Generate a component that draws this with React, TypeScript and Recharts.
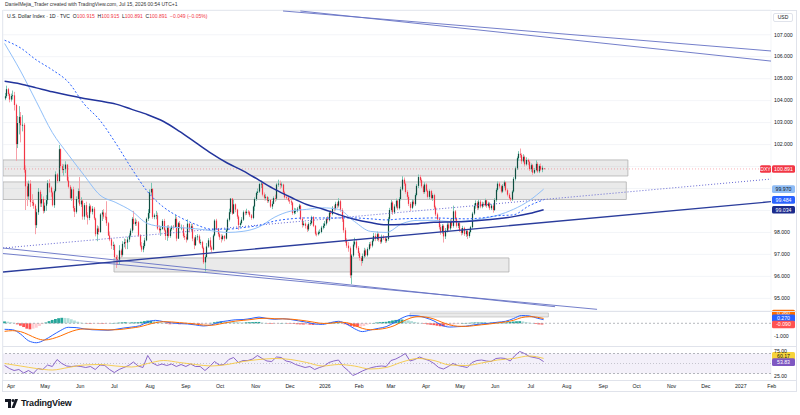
import React from 'react'
import {
  ComposedChart,
  Bar,
  Line,
  XAxis,
  YAxis,
  CartesianGrid,
  ReferenceLine,
  ReferenceArea,
} from 'recharts'

const FONT = '"Liberation Sans", Arial, sans-serif'
const TEXT = '#131722'
const UP = '#0f4d40'
const DOWN = '#f23645'

// ---- time scale (bar index) ----
const X0 = -1.006
const X1 = 482
const XT1 = 498.37
const monthIdx = [4, 25.5, 47.5, 69, 91.5, 114, 135.5, 158, 179.5, 201.5, 223, 243, 265, 286.5, 308.5, 331, 353.5, 376.5, 397.5, 419.5, 441, 463, 482.5]
const monthLbl = ['Apr', 'May', 'Jun', 'Jul', 'Aug', 'Sep', 'Oct', 'Nov', 'Dec', '2026', 'Feb', 'Mar', 'Apr', 'May', 'Jun', 'Jul', 'Aug', 'Sep', 'Oct', 'Nov', 'Dec', '2027', 'Feb']

// ---- daily OHLC, DXY ----
const opens = [
  104.10, 104.20, 104.52, 104.30, 104.05, 104.21, 104.24, 103.80, 102.02, 102.98,
  103.26, 102.88, 102.90, 100.85, 100.10, 99.64, 100.22, 99.38, 99.36, 99.22,
  98.33, 98.92, 99.85, 99.32, 99.52, 98.98, 99.22, 99.47, 100.24, 100.04,
  99.82, 99.24, 99.88, 100.64, 100.34, 101.79, 101.02, 100.84, 100.88, 101.09,
  100.36, 100.08, 99.56, 99.96, 99.11, 98.94, 99.52, 99.88, 99.28, 99.44,
  98.72, 99.24, 98.78, 98.66, 99.19, 98.94, 99.08, 98.64, 97.92, 98.18,
  98.02, 98.82, 98.91, 98.72, 98.71, 98.42, 97.86, 97.68, 97.40, 97.42,
  96.88, 96.78, 96.76, 97.18, 96.98, 97.48, 97.56, 97.54, 97.68, 97.86,
  98.08, 98.62, 98.38, 98.48, 98.46, 97.86, 97.40, 97.22, 97.38, 97.64,
  98.62, 98.88, 99.82, 99.98, 98.70, 98.78, 98.78, 98.18, 98.10, 98.16,
  98.52, 98.10, 97.84, 98.22, 97.84, 98.14, 98.26, 98.24, 98.62, 97.72,
  98.42, 98.22, 98.22, 97.84, 97.78, 97.68, 98.40, 98.14, 98.28, 97.72,
  97.42, 97.78, 97.82, 97.54, 97.56, 97.30, 96.64, 96.88, 97.36, 97.64,
  97.32, 97.22, 97.86, 98.54, 98.16, 97.92, 97.78, 97.70, 97.84, 97.72,
  98.10, 98.58, 98.92, 99.54, 98.86, 99.28, 99.04, 98.72, 98.34, 98.42,
  98.58, 98.92, 98.88, 98.94, 98.92, 98.78, 98.66, 99.18, 99.52, 99.80,
  99.86, 100.20, 100.22, 99.72, 99.58, 99.62, 99.44, 99.48, 99.18, 99.30,
  99.56, 99.54, 100.18, 100.22, 100.16, 100.18, 99.82, 99.60, 99.58, 99.46,
  99.42, 99.36, 98.88, 98.98, 98.98, 99.08, 99.22, 98.62, 98.34, 98.40,
  98.30, 98.14, 98.38, 98.42, 98.70, 98.30, 97.94, 97.92, 98.00, 98.02,
  98.22, 98.30, 98.40, 98.62, 98.56, 98.90, 98.84, 99.12, 99.08, 99.30,
  99.22, 99.42, 99.02, 98.60, 98.10, 97.62, 97.40, 97.28, 96.05, 96.95,
  97.45, 97.58, 97.30, 97.06, 96.84, 96.70, 96.92, 97.18, 96.96, 97.24,
  97.46, 97.40, 97.62, 97.84, 97.70, 97.92, 97.66, 97.58, 97.80, 97.74,
  97.62, 97.70, 98.62, 99.02, 99.36, 98.92, 99.18, 99.44, 99.10, 99.52,
  99.96, 100.40, 100.22, 99.84, 99.62, 99.30, 99.12, 99.40, 99.28, 99.70,
  100.12, 100.52, 100.38, 100.10, 99.84, 100.18, 99.90, 99.62, 99.88, 99.56,
  99.70, 99.14, 98.82, 98.60, 98.24, 98.02, 98.30, 97.82, 98.08, 98.36,
  98.18, 98.52, 98.30, 98.96, 98.64, 98.30, 98.42, 98.10, 97.98, 98.20,
  97.92, 98.06, 97.84, 98.02, 98.24, 98.86, 99.20, 99.34, 99.12, 99.40,
  99.18, 99.30, 99.24, 99.46, 99.20, 99.32, 99.10, 99.22, 99.02, 99.48,
  99.94, 100.22, 100.10, 99.86, 100.12, 100.28, 99.92, 99.72, 99.56, 99.50,
  99.86, 100.44, 100.92, 101.38, 101.58, 101.52, 101.24, 101.44, 101.10, 101.30,
  101.22, 100.88, 101.06, 100.72, 100.84, 101.12, 100.78, 101.02, 100.86, 100.915,
]
const highs = [
  104.35, 104.68, 104.58, 104.36, 104.32, 104.46, 104.40, 103.86, 103.30, 103.75,
  103.48, 103.34, 102.98, 101.05, 100.28, 100.36, 100.38, 99.74, 99.48, 99.30,
  99.08, 100.02, 99.94, 99.74, 99.64, 99.36, 99.70, 100.38, 100.42, 100.10,
  99.90, 99.96, 100.78, 100.70, 101.98, 101.82, 101.12, 101.10, 101.24, 101.10,
  100.54, 100.16, 100.04, 100.08, 99.20, 99.64, 100.00, 100.52, 99.60, 99.52,
  99.34, 99.40, 98.92, 99.32, 99.26, 99.20, 99.16, 98.68, 98.32, 98.28,
  98.88, 99.02, 99.06, 98.90, 99.42, 98.48, 98.04, 97.74, 97.58, 97.48,
  96.98, 96.96, 97.42, 97.26, 97.60, 97.72, 97.70, 97.80, 97.96, 98.18,
  98.70, 98.98, 98.64, 98.58, 98.52, 97.92, 97.56, 97.52, 97.76, 98.68,
  99.06, 99.96, 100.26, 100.02, 98.86, 98.98, 98.90, 98.32, 98.28, 98.60,
  98.62, 98.18, 98.32, 98.34, 98.20, 98.32, 98.34, 98.80, 98.72, 98.48,
  98.52, 98.36, 98.34, 97.96, 97.92, 98.60, 98.42, 98.40, 98.40, 97.80,
  97.88, 97.92, 97.90, 97.68, 97.62, 97.36, 96.96, 97.52, 97.74, 97.78,
  97.40, 97.92, 98.60, 98.62, 98.20, 98.00, 97.92, 97.90, 97.88, 98.18,
  98.64, 99.08, 99.56, 99.56, 99.48, 99.32, 99.08, 98.78, 98.50, 98.70,
  99.00, 99.00, 99.08, 99.02, 98.98, 98.84, 99.22, 99.60, 99.86, 100.00,
  100.26, 100.36, 100.26, 99.82, 99.74, 99.66, 99.60, 99.52, 99.42, 99.64,
  99.72, 100.24, 100.40, 100.36, 100.28, 100.22, 99.90, 99.70, 99.64, 99.54,
  99.50, 99.40, 99.12, 99.10, 99.16, 99.30, 99.26, 98.70, 98.52, 98.46,
  98.36, 98.46, 98.56, 98.76, 98.74, 98.34, 98.04, 98.08, 98.14, 98.30,
  98.42, 98.52, 98.70, 98.74, 98.98, 99.02, 99.20, 99.24, 99.40, 99.38,
  99.56, 99.50, 99.10, 98.66, 98.22, 97.74, 97.56, 97.36, 97.02, 97.60,
  97.76, 97.68, 97.38, 97.14, 96.92, 97.04, 97.30, 97.26, 97.32, 97.56,
  97.58, 97.70, 97.98, 97.96, 98.04, 98.00, 97.74, 97.90, 97.88, 97.82,
  97.82, 98.70, 99.12, 99.48, 99.42, 99.28, 99.54, 99.50, 99.60, 100.08,
  100.56, 100.50, 100.30, 99.92, 99.70, 99.38, 99.52, 99.48, 99.78, 100.20,
  100.64, 100.62, 100.46, 100.18, 100.28, 100.24, 99.96, 99.96, 99.94, 99.78,
  99.76, 99.22, 98.90, 98.66, 98.36, 98.38, 98.36, 98.20, 98.46, 98.44,
  98.60, 98.62, 99.22, 99.02, 98.70, 98.50, 98.48, 98.20, 98.30, 98.26,
  98.14, 98.12, 98.10, 98.30, 98.94, 99.32, 99.46, 99.42, 99.50, 99.48,
  99.40, 99.38, 99.54, 99.50, 99.40, 99.38, 99.30, 99.28, 99.56, 100.02,
  100.32, 100.30, 100.16, 100.20, 100.36, 100.32, 100.00, 99.80, 99.62, 99.92,
  100.52, 101.00, 101.46, 101.70, 101.82, 101.60, 101.56, 101.50, 101.42, 101.36,
  101.30, 101.14, 101.12, 100.94, 101.28, 101.20, 101.10, 101.14, 101.04, 100.915,
]
const lows = [
  104.02, 104.12, 104.22, 103.92, 103.96, 104.05, 103.55, 101.26, 101.84, 102.46,
  102.10, 102.60, 100.72, 99.02, 99.20, 99.48, 99.16, 99.20, 99.08, 97.92,
  98.20, 98.80, 99.16, 99.16, 98.86, 98.90, 98.98, 99.30, 99.82, 99.62,
  99.18, 99.12, 99.82, 100.24, 100.30, 100.92, 100.70, 100.58, 100.70, 100.30,
  100.00, 99.50, 99.44, 98.96, 98.70, 98.86, 99.36, 99.20, 99.16, 98.58,
  98.58, 98.70, 98.36, 98.56, 98.86, 98.82, 98.56, 97.82, 97.60, 97.90,
  97.98, 98.52, 98.62, 98.56, 98.30, 97.84, 97.60, 97.24, 97.20, 96.84,
  96.38, 96.52, 96.56, 96.86, 96.90, 97.32, 97.24, 97.24, 97.56, 97.78,
  97.98, 98.12, 98.30, 98.30, 97.80, 97.32, 97.12, 97.10, 97.30, 97.60,
  98.52, 98.66, 99.70, 98.62, 98.60, 98.60, 98.12, 97.98, 97.84, 98.12,
  98.04, 97.66, 97.62, 97.76, 97.76, 98.06, 98.12, 98.20, 97.60, 97.70,
  98.16, 98.10, 97.76, 97.66, 97.54, 97.64, 98.00, 98.08, 97.60, 97.24,
  97.38, 97.64, 97.48, 97.44, 97.24, 96.56, 96.22, 96.84, 97.30, 97.20,
  97.10, 97.18, 97.82, 98.12, 97.82, 97.66, 97.54, 97.64, 97.60, 97.68,
  98.04, 98.50, 98.84, 98.80, 98.84, 98.92, 98.62, 98.12, 98.24, 98.36,
  98.52, 98.78, 98.80, 98.82, 98.70, 98.58, 98.60, 98.98, 99.44, 99.70,
  99.80, 100.02, 99.64, 99.46, 99.46, 99.34, 99.36, 99.12, 99.06, 99.28,
  99.40, 99.46, 100.08, 99.98, 100.04, 99.74, 99.54, 99.48, 99.40, 99.30,
  99.24, 98.80, 98.82, 98.84, 98.92, 99.00, 98.56, 98.22, 98.28, 98.18,
  98.02, 98.06, 98.30, 98.36, 98.24, 97.86, 97.82, 97.86, 97.92, 97.96,
  98.14, 98.20, 98.32, 98.44, 98.50, 98.70, 98.78, 98.96, 99.00, 99.10,
  99.14, 98.94, 98.48, 97.98, 97.52, 97.30, 97.12, 95.92, 95.65, 96.88,
  97.36, 97.22, 96.92, 96.72, 96.48, 96.60, 96.84, 96.88, 96.90, 97.18,
  97.30, 97.32, 97.56, 97.60, 97.62, 97.58, 97.48, 97.50, 97.66, 97.52,
  97.54, 97.62, 98.50, 98.94, 98.80, 98.84, 99.10, 99.02, 99.04, 99.46,
  99.90, 100.12, 99.76, 99.52, 99.20, 98.98, 99.06, 99.18, 99.20, 99.64,
  100.02, 100.26, 100.02, 99.76, 99.76, 99.84, 99.54, 99.52, 99.48, 99.44,
  99.06, 98.74, 98.52, 98.14, 97.90, 97.94, 97.54, 97.70, 98.00, 98.06,
  98.10, 98.20, 98.22, 98.54, 98.22, 98.20, 98.02, 97.86, 97.90, 97.84,
  97.80, 97.70, 97.76, 97.96, 98.18, 98.80, 99.08, 99.02, 99.04, 99.10,
  99.10, 99.16, 99.18, 99.12, 99.14, 99.02, 99.02, 98.90, 98.98, 99.40,
  99.86, 100.00, 99.78, 99.80, 100.04, 99.86, 99.64, 99.48, 99.42, 99.44,
  99.80, 100.36, 100.84, 101.26, 101.40, 101.12, 101.18, 101.00, 101.04, 101.06,
  100.80, 100.76, 100.62, 100.66, 100.78, 100.70, 100.70, 100.80, 100.74, 100.891,
]
const closes = [
  104.20, 104.52, 104.30, 104.05, 104.21, 104.24, 103.80, 102.02, 102.98, 103.26,
  102.88, 102.90, 100.85, 100.10, 99.64, 100.22, 99.38, 99.36, 99.22, 98.33,
  98.92, 99.85, 99.32, 99.52, 98.98, 99.22, 99.47, 100.24, 100.04, 99.82,
  99.24, 99.88, 100.64, 100.34, 101.79, 101.02, 100.84, 100.88, 101.09, 100.36,
  100.08, 99.56, 99.96, 99.11, 98.94, 99.52, 99.88, 99.28, 99.44, 98.72,
  99.24, 98.78, 98.66, 99.19, 98.94, 99.08, 98.64, 97.92, 98.18, 98.02,
  98.82, 98.91, 98.72, 98.71, 98.42, 97.86, 97.68, 97.40, 97.42, 96.88,
  96.78, 96.76, 97.18, 96.98, 97.48, 97.56, 97.54, 97.68, 97.86, 98.08,
  98.62, 98.38, 98.48, 98.46, 97.86, 97.40, 97.22, 97.38, 97.64, 98.62,
  98.88, 99.82, 99.98, 98.70, 98.78, 98.78, 98.18, 98.10, 98.16, 98.52,
  98.10, 97.84, 98.22, 97.84, 98.14, 98.26, 98.24, 98.62, 97.72, 98.42,
  98.22, 98.22, 97.84, 97.78, 97.68, 98.40, 98.14, 98.28, 97.72, 97.42,
  97.78, 97.82, 97.54, 97.56, 97.30, 96.64, 96.88, 97.36, 97.64, 97.32,
  97.22, 97.86, 98.54, 98.16, 97.92, 97.78, 97.70, 97.84, 97.72, 98.10,
  98.58, 98.92, 99.54, 98.86, 99.28, 99.04, 98.72, 98.34, 98.42, 98.58,
  98.92, 98.88, 98.94, 98.92, 98.78, 98.66, 99.18, 99.52, 99.80, 99.86,
  100.20, 100.22, 99.72, 99.58, 99.62, 99.44, 99.48, 99.18, 99.30, 99.56,
  99.54, 100.18, 100.22, 100.16, 100.18, 99.82, 99.60, 99.58, 99.46, 99.42,
  99.36, 98.88, 98.98, 98.98, 99.08, 99.22, 98.62, 98.34, 98.40, 98.30,
  98.14, 98.38, 98.42, 98.70, 98.30, 97.94, 97.92, 98.00, 98.02, 98.22,
  98.30, 98.40, 98.62, 98.56, 98.90, 98.84, 99.12, 99.08, 99.30, 99.22,
  99.42, 99.02, 98.60, 98.10, 97.62, 97.40, 97.28, 96.05, 96.95, 97.45,
  97.58, 97.30, 97.06, 96.84, 96.70, 96.92, 97.18, 96.96, 97.24, 97.46,
  97.40, 97.62, 97.84, 97.70, 97.92, 97.66, 97.58, 97.80, 97.74, 97.62,
  97.70, 98.62, 99.02, 99.36, 98.92, 99.18, 99.44, 99.10, 99.52, 99.96,
  100.40, 100.22, 99.84, 99.62, 99.30, 99.12, 99.40, 99.28, 99.70, 100.12,
  100.52, 100.38, 100.10, 99.84, 100.18, 99.90, 99.62, 99.88, 99.56, 99.70,
  99.14, 98.82, 98.60, 98.24, 98.02, 98.30, 97.82, 98.08, 98.36, 98.18,
  98.52, 98.30, 98.96, 98.64, 98.30, 98.42, 98.10, 97.98, 98.20, 97.92,
  98.06, 97.84, 98.02, 98.24, 98.86, 99.20, 99.34, 99.12, 99.40, 99.18,
  99.30, 99.24, 99.46, 99.20, 99.32, 99.10, 99.22, 99.02, 99.48, 99.94,
  100.22, 100.10, 99.86, 100.12, 100.28, 99.92, 99.72, 99.56, 99.50, 99.86,
  100.44, 100.92, 101.38, 101.58, 101.52, 101.24, 101.44, 101.10, 101.30, 101.22,
  100.88, 101.06, 100.72, 100.84, 101.12, 100.78, 101.02, 100.86, 100.94, 100.891,
]

// ---- moving averages, read every 10 bars ----
const maIdx = [0, 10, 20, 30, 40, 50, 60, 70, 80, 90, 100, 110, 120, 130, 140, 150, 160, 170, 180, 190, 200, 210, 220, 230, 240, 250, 260, 270, 280, 290, 300, 310, 320, 330, 339]
const smaSlow = [104.88, 104.76, 104.58, 104.40, 104.24, 104.10, 103.98, 103.84, 103.60, 103.36, 103.05, 102.60, 102.10, 101.60, 101.16, 100.80, 100.38, 99.96, 99.60, 99.27, 99.07, 98.82, 98.60, 98.45, 98.35, 98.36, 98.40, 98.46, 98.48, 98.50, 98.55, 98.62, 98.72, 98.86, 99.034]
const smaFast = [106.60, 105.35, 103.95, 102.55, 101.55, 100.60, 99.70, 99.36, 98.97, 98.40, 98.26, 98.22, 98.17, 98.08, 98.00, 98.05, 98.25, 98.70, 98.97, 99.05, 99.12, 99.05, 98.50, 98.05, 98.00, 98.40, 98.55, 98.55, 98.50, 98.52, 98.62, 98.78, 99.05, 99.45, 99.970]
const emaMid = [106.75, 106.40, 105.85, 105.40, 104.85, 103.85, 103.10, 102.05, 100.90, 99.85, 99.15, 98.70, 98.37, 98.15, 98.15, 98.22, 98.32, 98.52, 98.62, 98.66, 98.66, 98.66, 98.66, 98.62, 98.57, 98.62, 98.64, 98.66, 98.64, 98.62, 98.66, 98.76, 98.80, 99.22, 99.484]

// ---- MACD, every 5 bars (last point = bar 339) ----
const macdLine = [
  -0.45, -0.48, -0.80, -1.30, -1.45, -1.25, -0.90, -0.55, -0.30, -0.32,
  -0.42, -0.48, -0.50, -0.52, -0.45, -0.35, -0.28, -0.18, 0.10, 0.22,
  0.12, 0.03, -0.02, -0.05, -0.12, -0.20, -0.12, 0.08, 0.18, 0.26,
  0.28, 0.36, 0.46, 0.36, 0.30, 0.34, 0.28, 0.18, 0.08, -0.05,
  -0.08, 0.05, 0.15, -0.05, -0.40, -0.62, -0.50, -0.38, -0.25, 0.05,
  0.40, 0.58, 0.55, 0.40, 0.18, -0.15, -0.28, -0.25, -0.22, -0.12,
  -0.05, 0.00, 0.08, 0.15, 0.35, 0.58, 0.55, 0.38, 0.270,
]
const signalLine = [
  -0.60, -0.55, -0.62, -0.85, -1.12, -1.25, -1.15, -0.95, -0.70, -0.50,
  -0.42, -0.44, -0.47, -0.49, -0.48, -0.43, -0.35, -0.26, -0.10, 0.05,
  0.12, 0.10, 0.05, 0.00, -0.06, -0.13, -0.15, -0.06, 0.06, 0.16,
  0.22, 0.28, 0.36, 0.38, 0.34, 0.33, 0.31, 0.25, 0.17, 0.07,
  -0.01, 0.00, 0.08, 0.05, -0.15, -0.38, -0.48, -0.45, -0.36, -0.18,
  0.12, 0.38, 0.50, 0.46, 0.32, 0.08, -0.12, -0.22, -0.23, -0.18,
  -0.11, -0.05, 0.03, 0.10, 0.22, 0.42, 0.50, 0.45, 0.360,
]
// histogram, every 2 bars
const macdHist = [
  0.14, 0.12, 0.08, 0.04, -0.08, -0.18, -0.28, -0.40, -0.45, -0.40,
  -0.33, -0.20, -0.06, 0.06, 0.16, 0.25, 0.32, 0.38, 0.41, 0.40,
  0.38, 0.30, 0.21, 0.12, 0.05, 0.00, -0.03, -0.04, -0.03, -0.02,
  -0.03, -0.04, -0.03, -0.01, 0.02, 0.03, 0.05, 0.07, 0.08, 0.07,
  0.07, 0.07, 0.08, 0.11, 0.16, 0.20, 0.20, 0.18, 0.14, 0.07,
  0.00, -0.04, -0.07, -0.07, -0.06, -0.07, -0.06, -0.05, -0.05, -0.06,
  -0.06, -0.07, -0.07, -0.05, -0.01, 0.03, 0.08, 0.12, 0.14, 0.13,
  0.12, 0.11, 0.10, 0.09, 0.07, 0.06, 0.07, 0.08, 0.09, 0.10,
  0.10, 0.05, 0.00, -0.03, -0.04, -0.04, -0.01, 0.01, 0.00, -0.02,
  -0.03, -0.05, -0.07, -0.08, -0.09, -0.09, -0.10, -0.12, -0.11, -0.09,
  -0.07, -0.02, 0.03, 0.06, 0.07, 0.07, 0.00, -0.07, -0.13, -0.20,
  -0.25, -0.26, -0.25, -0.20, -0.10, -0.02, 0.02, 0.06, 0.08, 0.10,
  0.11, 0.16, 0.21, 0.25, 0.27, 0.28, 0.25, 0.21, 0.16, 0.10,
  0.05, 0.01, -0.04, -0.08, -0.11, -0.14, -0.18, -0.22, -0.23, -0.20,
  -0.16, -0.11, -0.06, -0.02, 0.00, 0.01, 0.03, 0.05, 0.06, 0.06,
  0.06, 0.06, 0.05, 0.05, 0.05, 0.05, 0.05, 0.05, 0.07, 0.10,
  0.13, 0.15, 0.16, 0.14, 0.09, 0.05, 0.01, -0.05, -0.08, -0.09,
]

// ---- RSI every 3 bars, its MA every 10 bars ----
const rsiVals = [
  46, 40, 36, 38, 31, 36, 30, 40, 38, 47,
  44, 58, 50, 45, 44, 45, 44, 42, 44, 38,
  47, 46, 38, 32, 38, 42, 46, 53, 45, 42,
  66, 51, 46, 49, 46, 49, 44, 48, 44, 49,
  44, 44, 36, 44, 54, 47, 48, 58, 62, 52,
  56, 56, 59, 66, 60, 55, 54, 63, 62, 55,
  53, 48, 45, 42, 44, 38, 42, 45, 52, 55,
  57, 44, 36, 26, 30, 35, 39, 42, 44, 45,
  44, 56, 59, 64, 70, 55, 58, 63, 59, 56,
  50, 42, 39, 44, 50, 46, 44, 42, 52, 56,
  57, 55, 54, 60, 61, 60, 55, 66, 74, 70,
  64, 62, 60, 53.83,
]
const rsiMa = [50, 45, 40, 37, 42, 47, 48, 45, 43, 50, 56, 52, 48, 45, 48, 54, 58, 60, 58, 52, 45, 48, 45, 39, 42, 53, 60, 56, 47, 46, 51, 57, 60, 65, 60.17]

// ---- tables for recharts ----
const candles = closes.map((c, k) => ({ i: k, o: opens[k], h: highs[k], l: lows[k], c }))
const slowData = maIdx.map((i, k) => ({ i, v: smaSlow[k] }))
const fastData = maIdx.map((i, k) => ({ i, v: smaFast[k] }))
const emaData = maIdx.map((i, k) => ({ i, v: emaMid[k] }))
const macdIdx = macdLine.map((_, k) => (k < macdLine.length - 1 ? k * 5 : 339))
const macdData = macdIdx.map((i, k) => ({ i, m: macdLine[k], s: signalLine[k] }))
const histData = macdHist.map((v, k) => {
  const prev = k > 0 ? macdHist[k - 1] : v
  const col = v >= 0 ? (v >= prev ? '#26a69a' : '#b2dfdb') : (v < prev ? '#ff5252' : '#ffcdd2')
  return { i: k * 2, h: v, col }
})
const rsiData = rsiVals.map((v, k) => ({ i: k * 3, v }))
const rsiMaData = maIdx.map((i, k) => ({ i, v: rsiMa[k] }))

const Candle = (props: any) => {
  const { x, y, width, height, payload } = props
  if (!payload) return null
  const { o, h, l, c } = payload
  const top = Math.min(y, y + height)
  const span = Math.abs(height)
  const cx = Math.round(x + width / 2) + 0.5
  const k = h === l ? 0 : span / (h - l)
  const yo = top + (h - o) * k
  const yc = top + (h - c) * k
  const up = c >= o
  const bt = Math.min(yo, yc)
  const bh = Math.max(Math.abs(yc - yo), 0.8)
  return (
    <g>
      <line x1={cx} x2={cx} y1={top} y2={top + Math.max(span, 0.8)} stroke={up ? '#7cc6b4' : '#f7a0a8'} strokeWidth={1} />
      <rect x={cx - 0.6} y={bt} width={1.2} height={bh} fill={up ? UP : DOWN} />
    </g>
  )
}

const HistBar = (props: any) => {
  const { x, y, width, height, payload } = props
  if (!payload) return null
  const top = Math.min(y, y + height)
  return <rect x={x + width / 2 - 1.4} y={top} width={2.8} height={Math.max(Math.abs(height), 0.4)} fill={payload.col} />
}

const Tag = (props: any) => {
  const { viewBox, text, bg, fg, dy = 0, shift = 0, w = 23 } = props
  if (!viewBox) return null
  const x0 = viewBox.x + viewBox.width + 1 + shift
  const yc = viewBox.y + dy
  return (
    <g>
      <rect x={x0} y={yc - 3.8} width={w} height={7.6} rx={1.5} fill={bg} />
      <text x={x0 + w / 2} y={yc + 1.8} textAnchor="middle" fontSize={5.2} fontFamily={FONT} fill={fg}>
        {text}
      </text>
    </g>
  )
}

const hiddenPriceTicks = [99, 100, 101]
const PriceTick = (props: any) => {
  const { x, y, payload } = props
  if (hiddenPriceTicks.includes(payload.value)) return <g />
  return (
    <text x={x + 3} y={y + 1.8} fontSize={5.2} fontFamily={FONT} fill={TEXT}>
      {payload.value.toFixed(3)}
    </text>
  )
}

const SubTick = (props: any) => {
  const { x, y, payload, digits } = props
  return (
    <text x={x + 3} y={y + 1.8} fontSize={5.2} fontFamily={FONT} fill={TEXT}>
      {payload.value.toFixed(digits)}
    </text>
  )
}

const TimeTick = (props: any) => {
  const { x, y, payload } = props
  const k = monthIdx.indexOf(payload.value)
  return (
    <text x={x} y={y + 7.5} textAnchor="middle" fontSize={5.2} fontFamily={FONT} fill={TEXT}>
      {monthLbl[k]}
    </text>
  )
}

const grid = '#f0f2f6'
const boxFill = '#9e9e9e'
const boxLine = '#b0b0b0'
const drawLine = '#6470c4'

export default function App() {
  return (
    <div style={{ position: 'fixed', left: 0, top: 0, width: 800, height: 415, background: '#fff', overflow: 'hidden', fontFamily: FONT }}>
      {/* header */}
      <div style={{ position: 'absolute', left: 5, top: 1, fontSize: 5, color: '#333', whiteSpace: 'nowrap' }}>
        DanielMejia_Trader created with TradingView.com, Jul 15, 2026 00:54 UTC+1
      </div>
      <div style={{ position: 'absolute', left: 2, top: 10, width: 795, height: 382, border: '1px solid #e0e3eb', boxSizing: 'border-box' }} />
      <div style={{ position: 'absolute', left: 7, top: 13, fontSize: 5, color: TEXT, whiteSpace: 'nowrap' }}>
        U.S. Dollar Index · 1D · TVC&nbsp;&nbsp;O<span style={{ color: DOWN }}>100.915</span>&nbsp;&nbsp;H<span style={{ color: DOWN }}>100.915</span>&nbsp;&nbsp;L
        <span style={{ color: DOWN }}>100.891</span>&nbsp;&nbsp;C<span style={{ color: DOWN }}>100.891</span>&nbsp;&nbsp;
        <span style={{ color: DOWN }}>−0.049 (−0.05%)</span>
      </div>

      {/* price pane */}
      <div style={{ position: 'absolute', left: 0, top: 0 }}>
        <ComposedChart width={800} height={311} data={candles} margin={{ top: 10, right: 3, bottom: 0, left: 3 }}>
          <CartesianGrid stroke={grid} strokeWidth={0.8} />
          <XAxis type="number" dataKey="i" domain={[X0, X1]} allowDataOverflow ticks={monthIdx} interval={0} height={0} tick={false} axisLine={false} tickLine={false} />
          <YAxis
            orientation="right"
            width={26}
            domain={[94.424, 108.125]}
            allowDataOverflow
            ticks={[95, 96, 97, 98, 99, 100, 101, 102, 103, 104, 105, 106, 107]}
            interval={0}
            tick={PriceTick}
            tickSize={0}
            tickMargin={0}
            axisLine={false}
            tickLine={false}
          />
          {/* zones */}
          <ReferenceArea x1={X0} x2={392} y1={100.57} y2={101.3} fill={boxFill} fillOpacity={0.22} stroke={boxLine} strokeWidth={0.8} ifOverflow="hidden" />
          <ReferenceArea x1={X0} x2={391} y1={99.5} y2={100.3} fill={boxFill} fillOpacity={0.22} stroke={boxLine} strokeWidth={0.8} ifOverflow="hidden" />
          <ReferenceArea x1={68.8} x2={317.2} y1={96.2} y2={96.84} fill={boxFill} fillOpacity={0.22} stroke={boxLine} strokeWidth={0.8} ifOverflow="hidden" />
          {/* drawn trend lines */}
          <ReferenceLine segment={[{ x: 175.1, y: 108.08 }, { x: X1, y: 106.26 }]} stroke={drawLine} strokeWidth={0.9} ifOverflow="hidden" />
          <ReferenceLine segment={[{ x: 186, y: 108.08 }, { x: X1, y: 105.8 }]} stroke={drawLine} strokeWidth={0.9} ifOverflow="hidden" />
          <ReferenceLine segment={[{ x: X0, y: 97.29 }, { x: 346.2, y: 94.62 }]} stroke={drawLine} strokeWidth={0.9} ifOverflow="hidden" />
          <ReferenceLine segment={[{ x: X0, y: 97.04 }, { x: 372.6, y: 94.5 }]} stroke={drawLine} strokeWidth={0.9} ifOverflow="hidden" />
          <ReferenceLine segment={[{ x: X0, y: 96.2 }, { x: X1, y: 99.4 }]} stroke="#2b3d9c" strokeWidth={1.3} ifOverflow="hidden" />
          <ReferenceLine segment={[{ x: X0, y: 97.29 }, { x: X1, y: 100.43 }]} stroke="#6466d2" strokeWidth={1} strokeDasharray="1 2" ifOverflow="hidden" />
          <ReferenceLine y={100.891} stroke={DOWN} strokeOpacity={0.55} strokeWidth={0.7} strokeDasharray="1 2" />

          <Line data={fastData} dataKey="v" type="monotone" stroke="#90bff9" strokeWidth={1} dot={false} isAnimationActive={false} />
          <Line data={emaData} dataKey="v" type="monotone" stroke="#2962ff" strokeWidth={1} strokeDasharray="2 2" dot={false} isAnimationActive={false} />
          <Line data={slowData} dataKey="v" type="monotone" stroke="#22349c" strokeWidth={1.5} dot={false} isAnimationActive={false} />

          <Bar dataKey={(d: any) => [d.l, d.h]} barSize={2} shape={<Candle />} isAnimationActive={false} />

          {/* price scale tags */}
          <ReferenceLine y={100.891} stroke="transparent" label={<Tag text="DXY" bg={DOWN} fg="#fff" shift={-12} w={11} />} />
          <ReferenceLine y={100.891} stroke="transparent" label={<Tag text="100.891" bg={DOWN} fg="#fff" />} />
          <ReferenceLine y={99.97} stroke="transparent" label={<Tag text="99.970" bg="#8fbcf5" fg={TEXT} />} />
          <ReferenceLine y={99.484} stroke="transparent" label={<Tag text="99.484" bg="#2962ff" fg="#fff" />} />
          <ReferenceLine y={99.034} stroke="transparent" label={<Tag text="99.034" bg="#1a2a8c" fg="#fff" />} />
        </ComposedChart>
      </div>

      {/* MACD pane */}
      <div style={{ position: 'absolute', left: 0, top: 305 }}>
        <ComposedChart width={800} height={42} data={histData} margin={{ top: 7, right: 3, bottom: 0, left: 3 }}>
          <CartesianGrid stroke={grid} strokeWidth={0.8} horizontal={false} />
          <XAxis type="number" dataKey="i" domain={[X0, X1]} allowDataOverflow ticks={monthIdx} interval={0} height={0} tick={false} axisLine={false} tickLine={false} />
          <YAxis orientation="right" width={26} domain={[-1.769, 0.843]} allowDataOverflow ticks={[-1]} interval={0} tick={<SubTick digits={3} />} tickSize={0} tickMargin={0} axisLine={false} tickLine={false} />
          <ReferenceArea x1={255} x2={342} y1={0.47} y2={0.77} fill={boxFill} fillOpacity={0.22} stroke={boxLine} strokeWidth={0.6} ifOverflow="hidden" />
          <ReferenceLine y={0} stroke="#9598a1" strokeWidth={0.7} strokeDasharray="2 2" />
          <Bar dataKey="h" barSize={2} shape={<HistBar />} isAnimationActive={false} />
          <Line data={macdData} dataKey="m" type="monotone" stroke="#2962ff" strokeWidth={1} dot={false} isAnimationActive={false} />
          <Line data={macdData} dataKey="s" type="monotone" stroke="#ff6d00" strokeWidth={1} dot={false} isAnimationActive={false} />
          <ReferenceLine y={0.36} stroke="transparent" label={<Tag text="0.360" bg="#ff6d00" fg="#fff" dy={-5} />} />
          <ReferenceLine y={0.27} stroke="transparent" label={<Tag text="0.270" bg="#2962ff" fg="#fff" dy={-1.5} />} />
          <ReferenceLine y={-0.09} stroke="transparent" label={<Tag text="-0.090" bg="#ff5252" fg="#fff" />} />
        </ComposedChart>
      </div>

      {/* RSI pane */}
      <div style={{ position: 'absolute', left: 0, top: 346 }}>
        <ComposedChart width={800} height={34} data={rsiData} margin={{ top: 1, right: 3, bottom: 0, left: 3 }}>
          <CartesianGrid stroke={grid} strokeWidth={0.8} horizontal={false} />
          <XAxis type="number" dataKey="i" domain={[X0, X1]} allowDataOverflow ticks={monthIdx} interval={0} height={0} tick={false} axisLine={false} tickLine={false} />
          <YAxis orientation="right" width={26} domain={[17, 83]} allowDataOverflow ticks={[25, 75]} interval={0} tick={<SubTick digits={2} />} tickSize={0} tickMargin={0} axisLine={false} tickLine={false} />
          <ReferenceArea x1={X0} x2={X1} y1={30} y2={70} fill="#7e57c2" fillOpacity={0.09} stroke="none" ifOverflow="hidden" />
          <ReferenceLine y={70} stroke="#9598a1" strokeWidth={0.7} strokeDasharray="2 2" />
          <ReferenceLine y={50} stroke="#9598a1" strokeOpacity={0.7} strokeWidth={0.7} strokeDasharray="1 2" />
          <ReferenceLine y={30} stroke="#9598a1" strokeWidth={0.7} strokeDasharray="2 2" />
          <Line data={rsiData} dataKey="v" type="linear" stroke="#7e57c2" strokeWidth={0.9} dot={false} isAnimationActive={false} />
          <Line data={rsiMaData} dataKey="v" type="monotone" stroke="#f5c842" strokeWidth={0.9} dot={false} isAnimationActive={false} />
          <ReferenceLine y={60.17} stroke="transparent" label={<Tag text="60.17" bg="#f7d33a" fg={TEXT} dy={-2.5} />} />
          <ReferenceLine y={53.83} stroke="transparent" label={<Tag text="53.83" bg="#7e57c2" fg="#fff" dy={0.5} />} />
        </ComposedChart>
      </div>

      {/* time scale */}
      <div style={{ position: 'absolute', left: 0, top: 379 }}>
        <ComposedChart width={800} height={13} data={monthIdx.map((i) => ({ i }))} margin={{ top: 0, right: 3, bottom: 0, left: 3 }}>
          <XAxis type="number" dataKey="i" domain={[X0, XT1]} allowDataOverflow ticks={monthIdx} interval={0} height={12} tick={TimeTick} tickSize={0} tickMargin={0} axisLine={false} tickLine={false} />
        </ComposedChart>
      </div>

      {/* pane separators */}
      <div style={{ position: 'absolute', left: 3, top: 311, width: 794, height: 1, background: '#e0e3eb' }} />
      <div style={{ position: 'absolute', left: 3, top: 346, width: 794, height: 1, background: '#e0e3eb' }} />
      <div style={{ position: 'absolute', left: 3, top: 380, width: 794, height: 1, background: '#e0e3eb' }} />

      {/* USD unit box */}
      <div style={{ position: 'absolute', left: 773, top: 13, width: 20, height: 9, border: '1px solid #e0e3eb', borderRadius: 2, boxSizing: 'border-box', fontSize: 5, lineHeight: '7px', textAlign: 'center', color: TEXT }}>
        USD
      </div>

      {/* footer logo */}
      <div style={{ position: 'absolute', left: 5, top: 398, display: 'flex', alignItems: 'center' }}>
        <svg width={13} height={9} viewBox="0 0 13 9">
          <path d="M0 0 H6 V9 H3 V3 H0 Z" fill={TEXT} />
          <circle cx={8} cy={1.5} r={1.5} fill={TEXT} />
          <path d="M10 0 H13 L9.5 9 H6.5 Z" fill={TEXT} />
        </svg>
        <span style={{ marginLeft: 3, fontSize: 9, fontWeight: 700, color: TEXT, letterSpacing: -0.2 }}>TradingView</span>
      </div>
    </div>
  )
}
